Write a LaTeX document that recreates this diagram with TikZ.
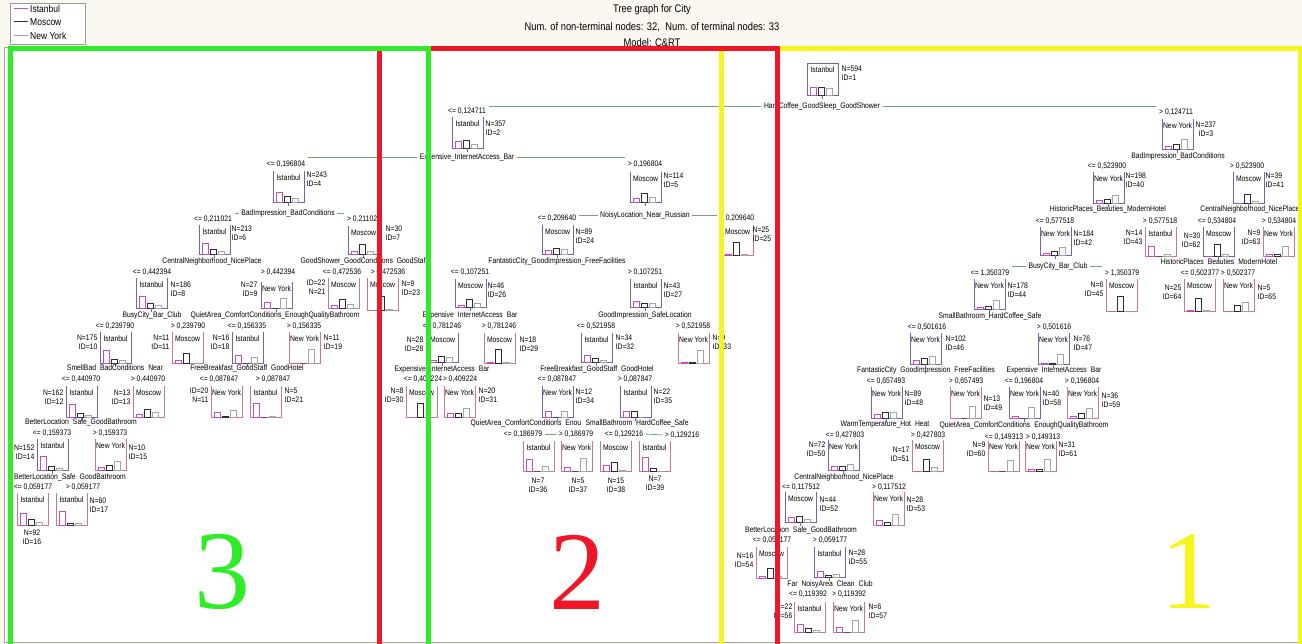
\documentclass[tikz,border=0pt]{standalone}
\usepackage{fontspec}
\newfontfamily\treefont[FakeStretch=0.85]{Liberation Sans}
\newfontfamily\numfont{Liberation Serif}
\usetikzlibrary{calc}

\definecolor{paper}{RGB}{250,248,241}
\definecolor{cIst}{RGB}{190,80,190}
\definecolor{cMos}{RGB}{45,45,45}
\definecolor{cNY}{RGB}{165,165,165}
\definecolor{splitc}{RGB}{105,105,170}
\definecolor{leafc}{RGB}{205,120,145}
\definecolor{linkc}{RGB}{110,165,120}
\definecolor{frameG}{RGB}{48,235,40}
\definecolor{frameR}{RGB}{238,22,40}
\definecolor{frameY}{RGB}{246,246,30}

\tikzset{
  treebox/.style={minimum width=31pt, inner sep=0pt, outer sep=0pt},
  splitedge/.style={draw=splitc, line width=0.8pt},
  leafedge/.style={draw=leafc, line width=0.8pt},
  barI/.style={draw=cIst, line width=0.7pt},
  barM/.style={draw=cMos, line width=0.7pt},
  barN/.style={draw=cNY, line width=0.7pt},
  small/.style={font=\treefont\fontsize{8}{9.5}\selectfont, inner sep=0.5pt},
  cls/.style={small},
  info/.style={small},
  thr/.style={small, fill=white},
  splitlab/.style={small},
  cover/.style={fill=white},
  link/.style={draw=linkc, line width=0.8pt, shorten <=2pt, shorten >=2pt},
  headtext/.style={font=\treefont\fontsize{11}{13}\selectfont, inner sep=0pt},
  legtext/.style={font=\treefont\fontsize{10}{12}\selectfont, inner sep=0pt, anchor=west},
  frameline/.style={line width=5pt},
  bignum/.style={font=\numfont\fontsize{112}{112}\selectfont, inner sep=0pt}
}

% tree node: id, left, top, bottom, class, edge style, bar heights (Istanbul, Moscow, New York)
\newcommand\TrNode[9]{%
  \node[treebox, minimum height={#4-#3}] (n#1) at ({#2+15.5},{(#3+#4)/2}) {};
  \draw[#6] (n#1.north west) -- (n#1.south west) -- (n#1.south east) -- (n#1.north east);
  \node[cls] (c#1) at ($(n#1.north)+(0,7)$) {#5};
  \draw[barI] ($(n#1.south west)+(3,0)$) rectangle ++(6,-#7);
  \draw[barM] ($(n#1.south west)+(11,0)$) rectangle ++(6,-#8);
  \draw[barN] ($(n#1.south west)+(19,0)$) rectangle ++(6,-#9);
}
\newcommand\CntR[4]{\node[info, anchor=north west, align=left] (i#1) at (#2,#3) {#4};}
\newcommand\CntL[4]{\node[info, anchor=north east, align=right] (i#1) at (#2,#3) {#4};}
\newcommand\CntB[4]{\node[info, anchor=north, align=center] (i#1) at (#2,#3) {#4};}
\newcommand\Thr[4]{\node[thr] (t#1) at (#2,#3) {#4};}
\newcommand\SplitVar[4]{\node[splitlab] (s#1) at (#2,#3) {#4};}

\begin{document}
\begin{tikzpicture}[x=1pt, y=-1pt]
\useasboundingbox (0,0) rectangle (1302,644);
\fill[paper] (0,0) rectangle (1302,644);
\fill[white] (4,47) rectangle (1298,642);
\draw[gray!70] (4,47) rectangle (1298,642);

% legend
\draw[gray!80, fill=white] (10,3) rectangle (85,44);
\node[legtext] (lg1) at (30,9) {Istanbul};
\node[legtext] (lg2) at (30,22) {Moscow};
\node[legtext] (lg3) at (30,36) {New York};
\draw[cIst, line width=1pt] ($(lg1.west)+(-16,0)$) -- ++(14,0);
\draw[cMos, line width=1pt] ($(lg2.west)+(-16,0)$) -- ++(14,0);
\draw[cNY, line width=1pt] ($(lg3.west)+(-16,0)$) -- ++(14,0);

% heading
\node[headtext] (h1) at (652,10) {Tree graph for City};
\node[headtext] (h2) at (652,27) {Num. of non-terminal nodes: 32,\enspace Num. of terminal nodes: 33};
\node[headtext] (h3) at (652,43) {Model: C\&RT};

% boxes
\TrNode{1}{807}{63}{95}{Istanbul}{splitedge}{8}{8}{7}
\draw[splitedge] (n1.north west) -- (n1.north east);
\TrNode{2}{452}{117}{148}{Istanbul}{splitedge}{7}{8}{4}
\TrNode{3}{1162}{119}{149}{New York}{splitedge}{3}{5}{10}
\TrNode{4}{273}{171}{202}{Istanbul}{splitedge}{10}{6}{4}
\TrNode{5}{630}{172}{202}{Moscow}{splitedge}{4}{9}{5}
\TrNode{6}{199}{225}{254}{Istanbul}{splitedge}{11}{5}{3}
\TrNode{7}{348}{226}{254}{Moscow}{splitedge}{3}{10}{3}
\TrNode{8}{136}{278}{308}{Istanbul}{splitedge}{12}{5}{3}
\TrNode{9}{261}{282}{308}{New York}{splitedge}{6}{0}{10}
\TrNode{10}{100}{332}{363}{Istanbul}{splitedge}{13}{4}{3}
\TrNode{11}{172}{332}{363}{Moscow}{leafedge}{3}{10}{0}
\TrNode{12}{66}{386}{417}{Istanbul}{splitedge}{13}{4}{2}
\TrNode{13}{133}{386}{417}{Moscow}{leafedge}{3}{8}{5}
\TrNode{14}{37}{439}{470}{Istanbul}{splitedge}{14}{4}{2}
\TrNode{15}{95}{439}{470}{New York}{leafedge}{3}{5}{9}
\TrNode{16}{17}{493}{525}{Istanbul}{leafedge}{12}{6}{3}
\TrNode{17}{56}{493}{525}{Istanbul}{leafedge}{14}{2}{2}
\TrNode{18}{232}{332}{363}{Istanbul}{splitedge}{8}{0}{6}
\TrNode{19}{289}{332}{363}{New York}{leafedge}{0}{0}{14}
\TrNode{20}{211}{386}{417}{New York}{leafedge}{5}{1}{7}
\TrNode{21}{250}{386}{417}{Istanbul}{leafedge}{14}{0}{1}
\TrNode{22}{328}{278}{308}{Moscow}{leafedge}{3}{9}{4}
\TrNode{23}{367}{278}{310}{Moscow}{leafedge}{0}{14}{1}
\TrNode{24}{542}{225}{254}{Moscow}{splitedge}{4}{6}{5}
\TrNode{25}{722}{225}{255}{Moscow}{leafedge}{1}{13}{1}
\TrNode{26}{455}{279}{307}{Moscow}{splitedge}{2}{8}{4}
\TrNode{27}{630}{279}{307}{Istanbul}{splitedge}{6}{4}{4}
\TrNode{28}{427}{333}{362}{Moscow}{splitedge}{2}{6}{5}
\TrNode{29}{484}{333}{363}{Moscow}{leafedge}{1}{14}{1}
\TrNode{30}{406}{386}{417}{Moscow}{leafedge}{0}{14}{0}
\TrNode{31}{444}{386}{417}{New York}{leafedge}{4}{4}{9}
\TrNode{32}{581}{333}{362}{Istanbul}{splitedge}{7}{4}{2}
\TrNode{33}{678}{333}{363}{New York}{leafedge}{1}{1}{13}
\TrNode{34}{542}{386}{417}{New York}{splitedge}{6}{0}{6}
\TrNode{35}{620}{386}{417}{Istanbul}{splitedge}{6}{6}{0}
\TrNode{36}{523}{441}{471}{Istanbul}{leafedge}{12}{0}{5}
\TrNode{37}{561}{441}{471}{New York}{leafedge}{4}{0}{13}
\TrNode{38}{600}{441}{471}{Moscow}{leafedge}{6}{9}{1}
\TrNode{39}{639}{441}{471}{Istanbul}{leafedge}{14}{3}{0}
\TrNode{40}{1093}{172}{203}{New York}{splitedge}{3}{4}{8}
\TrNode{41}{1233}{172}{203}{Moscow}{splitedge}{0}{9}{2}
\TrNode{42}{1040}{227}{255}{New York}{splitedge}{2}{4}{8}
\TrNode{43}{1145}{227}{256}{Istanbul}{leafedge}{10}{0}{2}
\TrNode{44}{974}{279}{309}{New York}{splitedge}{2}{3}{9}
\TrNode{45}{1106}{279}{311}{Moscow}{leafedge}{0}{15}{0}
\TrNode{46}{910}{333}{364}{New York}{splitedge}{4}{6}{8}
\TrNode{47}{1038}{333}{364}{New York}{splitedge}{1}{1}{10}
\TrNode{48}{871}{387}{418}{New York}{splitedge}{4}{6}{6}
\TrNode{49}{950}{387}{418}{New York}{leafedge}{0}{0}{12}
\TrNode{50}{828}{440}{470}{New York}{splitedge}{4}{4}{6}
\TrNode{51}{912}{440}{471}{Moscow}{leafedge}{0}{12}{4}
\TrNode{52}{785}{492}{522}{Moscow}{splitedge}{5}{6}{3}
\TrNode{53}{873}{492}{525}{New York}{leafedge}{5}{3}{11}
\TrNode{54}{756}{547}{578}{Moscow}{leafedge}{2}{10}{2}
\TrNode{55}{814}{547}{577}{Istanbul}{splitedge}{6}{2}{3}
\TrNode{56}{794}{602}{632}{Istanbul}{leafedge}{8}{4}{2}
\TrNode{57}{833}{602}{632}{New York}{leafedge}{5}{0}{12}
\TrNode{58}{1009}{387}{418}{New York}{splitedge}{2}{0}{11}
\TrNode{59}{1067}{387}{418}{New York}{leafedge}{2}{5}{10}
\TrNode{60}{988}{440}{471}{New York}{leafedge}{0}{0}{11}
\TrNode{61}{1025}{440}{471}{New York}{leafedge}{2}{2}{12}
\TrNode{62}{1203}{227}{256}{Moscow}{splitedge}{0}{12}{2}
\TrNode{63}{1263}{227}{256}{New York}{leafedge}{2}{2}{10}
\TrNode{64}{1184}{279}{311}{Moscow}{leafedge}{1}{13}{1}
\TrNode{65}{1223}{279}{311}{New York}{leafedge}{0}{6}{9}

\foreach \k in {1,2,3,4,5,6,7,8,9,10,12,14,18,24,26,27,28,32,34,35,40,41,42,44,46,47,48,50,52,55,58,62}
  \draw[splitedge] (n\k.south) -- ++(0,4);

% counts
\CntR{1}{841}{65}{N=594\\ID=1}
\CntR{2}{485}{120}{N=357\\ID=2}
\CntR{3}{1195}{121}{N=237\\\hspace*{3pt}ID=3}
\CntR{4}{306}{171}{N=243\\ID=4}
\CntR{5}{663}{172}{N=114\\ID=5}
\CntR{6}{231}{225}{N=213\\ID=6}
\CntR{7}{385}{225}{N=30\\ID=7}
\CntR{8}{170}{281}{N=186\\ID=8}
\CntL{9}{258}{281}{N=27\\ID=9}
\CntL{10}{98}{334}{N=175\\ID=10}
\CntL{11}{170}{334}{N=11\\ID=11}
\CntL{12}{64}{389}{N=162\\ID=12}
\CntL{13}{131}{389}{N=13\\ID=13}
\CntL{14}{35}{444}{N=152\\ID=14}
\CntR{15}{128}{444}{N=10\\ID=15}
\CntB{16}{32}{529}{N=92\\ID=16}
\CntR{17}{89}{497}{N=60\\ID=17}
\CntL{18}{230}{334}{N=16\\ID=18}
\CntR{19}{323}{334}{N=11\\ID=19}
\CntL{20}{209}{387}{ID=20\\N=11}
\CntR{21}{284}{387}{N=5\\ID=21}
\CntL{22}{326}{279}{ID=22\\N=21}
\CntR{23}{401}{280}{N=9\\ID=23}
\CntR{24}{575}{228}{N=89\\ID=24}
\CntR{25}{752}{226}{N=25\\ID=25}
\CntR{26}{487}{282}{N=46\\ID=26}
\CntR{27}{663}{282}{N=43\\ID=27}
\CntL{28}{424}{336}{N=28\\ID=28}
\CntR{29}{519}{336}{N=18\\ID=29}
\CntL{30}{404}{387}{N=8\\ID=30}
\CntR{31}{478}{387}{N=20\\ID=31}
\CntR{32}{615}{334}{N=34\\ID=32}
\CntR{33}{712}{334}{N=9\\ID=33}
\CntR{34}{575}{388}{N=12\\ID=34}
\CntR{35}{653}{388}{N=22\\ID=35}
\CntB{36}{538}{477}{N=7\\ID=36}
\CntB{37}{578}{477}{N=5\\ID=37}
\CntB{38}{616}{477}{N=15\\ID=38}
\CntB{39}{655}{475}{N=7\\ID=39}
\CntR{40}{1125}{172}{N=198\\ID=40}
\CntR{41}{1265}{172}{N=39\\ID=41}
\CntR{42}{1073}{230}{N=184\\ID=42}
\CntL{43}{1143}{229}{N=14\\ID=43}
\CntR{44}{1007}{282}{N=178\\ID=44}
\CntL{45}{1104}{281}{N=6\\ID=45}
\CntR{46}{945}{335}{N=102\\ID=46}
\CntR{47}{1073}{335}{N=76\\ID=47}
\CntR{48}{904}{390}{N=89\\ID=48}
\CntR{49}{983}{395}{N=13\\ID=49}
\CntL{50}{826}{441}{N=72\\ID=50}
\CntL{51}{910}{446}{N=17\\ID=51}
\CntR{52}{819}{496}{N=44\\ID=52}
\CntR{53}{906}{496}{N=28\\ID=53}
\CntL{54}{754}{552}{N=16\\ID=54}
\CntR{55}{848}{549}{N=28\\ID=55}
\CntL{56}{793}{603}{N=22\\ID=56}
\CntR{57}{868}{603}{N=6\\ID=57}
\CntR{58}{1042}{390}{N=40\\ID=58}
\CntR{59}{1101}{392}{N=36\\ID=59}
\CntL{60}{986}{441}{N=9\\ID=60}
\CntR{61}{1058}{441}{N=31\\ID=61}
\CntL{62}{1201}{232}{N=30\\ID=62}
\CntL{63}{1261}{229}{N=9\\ID=63}
\CntL{64}{1182}{284}{N=25\\ID=64}
\CntR{65}{1257}{284}{N=5\\ID=65}

% split thresholds
\Thr{2}{467}{111}{<= 0,124711}
\Thr{3}{1176}{112}{> 0,124711}
\Thr{4}{286}{164}{<= 0,196804}
\Thr{5}{645}{164}{> 0,196804}
\Thr{6}{213}{219}{<= 0,211021}
\Thr{7}{364}{219}{> 0,211021}
\Thr{8}{152}{272}{<= 0,442394}
\Thr{9}{278}{272}{> 0,442394}
\Thr{22}{342}{272}{<= 0,472536}
\Thr{23}{388}{272}{> 0,472536}
\Thr{10}{115}{326}{<= 0,239790}
\Thr{11}{188}{326}{> 0,239790}
\Thr{18}{247}{326}{<= 0,156335}
\Thr{19}{304}{326}{> 0,156335}
\Thr{12}{81}{379}{<= 0,440970}
\Thr{13}{148}{379}{> 0,440970}
\Thr{20}{219}{379}{<= 0,087847}
\Thr{21}{273}{379}{> 0,087847}
\Thr{14}{52}{433}{<= 0,159373}
\Thr{15}{110}{433}{> 0,159373}
\Thr{16}{33}{487}{<= 0,059177}
\Thr{17}{83}{487}{> 0,059177}
\Thr{24}{557}{218}{<= 0,209640}
\Thr{25}{737}{218}{> 0,209640}
\Thr{26}{470}{272}{<= 0,107251}
\Thr{27}{645}{272}{> 0,107251}
\Thr{28}{442}{326}{<= 0,781246}
\Thr{29}{499}{326}{> 0,781246}
\Thr{32}{596}{326}{<= 0,521958}
\Thr{33}{693}{326}{> 0,521958}
\Thr{30}{423}{379}{<= 0,409224}
\Thr{31}{460}{379}{> 0,409224}
\Thr{34}{557}{379}{<= 0,087847}
\Thr{35}{635}{379}{> 0,087847}
\Thr{36}{523}{434}{<= 0,186979}
\Thr{37}{576}{434}{> 0,186979}
\Thr{38}{624}{434}{<= 0,129216}
\Thr{39}{682}{435}{> 0,129216}
\Thr{40}{1107}{166}{<= 0,523900}
\Thr{41}{1247}{166}{> 0,523900}
\Thr{42}{1055}{221}{<= 0,577518}
\Thr{43}{1160}{221}{> 0,577518}
\Thr{62}{1217}{221}{<= 0,534804}
\Thr{63}{1279}{221}{> 0,534804}
\Thr{44}{990}{273}{<= 1,350379}
\Thr{45}{1122}{273}{> 1,350379}
\Thr{64}{1200}{273}{<= 0,502377}
\Thr{65}{1238}{273}{> 0,502377}
\Thr{46}{927}{327}{<= 0,501616}
\Thr{47}{1054}{327}{> 0,501616}
\Thr{48}{886}{381}{<= 0,657493}
\Thr{49}{966}{381}{> 0,657493}
\Thr{58}{1024}{381}{<= 0,196804}
\Thr{59}{1082}{381}{> 0,196804}
\Thr{50}{845}{435}{<= 0,427803}
\Thr{51}{928}{435}{> 0,427803}
\Thr{60}{1004}{437}{<= 0,149313}
\Thr{61}{1043}{437}{> 0,149313}
\Thr{52}{801}{487}{<= 0,117512}
\Thr{53}{889}{487}{> 0,117512}
\Thr{54}{772}{540}{<= 0,059177}
\Thr{55}{830}{540}{> 0,059177}
\Thr{56}{808}{594}{<= 0,119392}
\Thr{57}{849}{594}{> 0,119392}

% split variables
\SplitVar{1}{822}{106}{HardCoffee\_GoodSleep\_GoodShower}
\SplitVar{2}{467}{157}{Expensive\_InternetAccess\_Bar}
\SplitVar{3}{1178}{156}{BadImpression\_BadConditions}
\SplitVar{4}{288}{213}{BadImpression\_BadConditions}
\SplitVar{5}{645}{215}{NoisyLocation\_Near\_Russian}
\SplitVar{6}{212}{261}{CentralNeighborhood\_NicePlace}
\node[splitlab, anchor=west] (s7) at (300,261) {GoodShower\_GoodConditions\enspace GoodStaff};
\SplitVar{8}{152}{315}{BusyCity\_Bar\_Club}
\SplitVar{9}{275}{315}{QuietArea\_ComfortConditions\_EnoughQualityBathroom}
\SplitVar{10}{115}{368}{SmellBad\enspace BadConditions\enspace Near}
\SplitVar{12}{81}{422}{BetterLocation\enspace Safe\_GoodBathroom}
\SplitVar{14}{70}{477}{BetterLocation\_Safe\enspace GoodBathroom}
\SplitVar{18}{247}{368}{FreeBreakfast\_GoodStaff\enspace GoodHotel}
\SplitVar{24}{557}{261}{FantasticCity\_GoodImpression\_FreeFacilities}
\SplitVar{26}{470}{315}{Expensive\enspace InternetAccess\enspace Bar}
\SplitVar{27}{645}{315}{GoodImpression\_SafeLocation}
\SplitVar{28}{442}{369}{Expensive\enspace InternetAccess\enspace Bar}
\SplitVar{32}{597}{369}{FreeBreakfast\_GoodStaff\enspace GoodHotel}
\node[splitlab, anchor=west] (s34) at (470,423) {QuietArea\_ComfortConditions\enspace Enou};
\node[splitlab, anchor=west] (s35) at (585,423) {SmallBathroom\enspace HardCoffee\_Safe};
\SplitVar{40}{1108}{209}{HistoricPlaces\_Beauties\_ModernHotel}
\SplitVar{41}{1250}{209}{CentralNeighborhood\_NicePlace}
\SplitVar{42}{1058}{266}{BusyCity\_Bar\_Club}
\SplitVar{62}{1219}{262}{HistoricPlaces\enspace Beauties\enspace ModernHotel}
\SplitVar{44}{990}{316}{SmallBathroom\_HardCoffee\_Safe}
\SplitVar{46}{926}{370}{FantasticCity\enspace GoodImpression\enspace FreeFacilities}
\SplitVar{47}{1054}{370}{Expensive\enspace InternetAccess\enspace Bar}
\SplitVar{48}{885}{425}{WarmTemperature\_Hot\enspace Heat}
\SplitVar{58}{1024}{425}{QuietArea\_ComfortConditions\enspace EnoughQualityBathroom}
\SplitVar{50}{844}{477}{CentralNeighborhood\_NicePlace}
\SplitVar{52}{801}{530}{BetterLocation\enspace Safe\_GoodBathroom}
\SplitVar{55}{830}{584}{Far\enspace NoisyArea\enspace Clean\enspace Club}

% branch lines
\draw[link] (s1.west) -- (s1.west -| t2.east);
\draw[link] (s1.east) -- (s1.east -| t3.west);
\draw[link] (s2.west) -- (s2.west -| t4.east);
\draw[link] (s2.east) -- (s2.east -| t5.west);
\draw[link] (s4.west) -- (s4.west -| t6.east);
\draw[link] (s4.east) -- (s4.east -| t7.west);
\draw[link] (s5.west) -- (s5.west -| t24.east);
\draw[link] (s5.east) -- (s5.east -| t25.west);
\draw[link] (s42.west) -- (s42.west -| t44.east);
\draw[link] (s42.east) -- (s42.east -| t45.west);
\draw[link] (t36.east) -- (t37.west);
\draw[link] (t38.east) -- (t39.west);

% region frames
\draw[frameline, frameY] (721,644) -- (721,49) -- (1300,49) -- (1300,644);
\draw[frameline, frameR] (379,644) -- (379,49) -- (777,49) -- (777,644);
\draw[frameline, frameG] (10,644) -- (10,49) -- (428,49) -- (428,644);

% region numbers
\node[bignum, text=frameG] (d3) at (222,572) {3};
\node[bignum, text=frameR] (d2) at (577,572) {2};
\node[bignum, text=frameY] (d1) at (1188,572) {1};
\end{tikzpicture}
\end{document}
